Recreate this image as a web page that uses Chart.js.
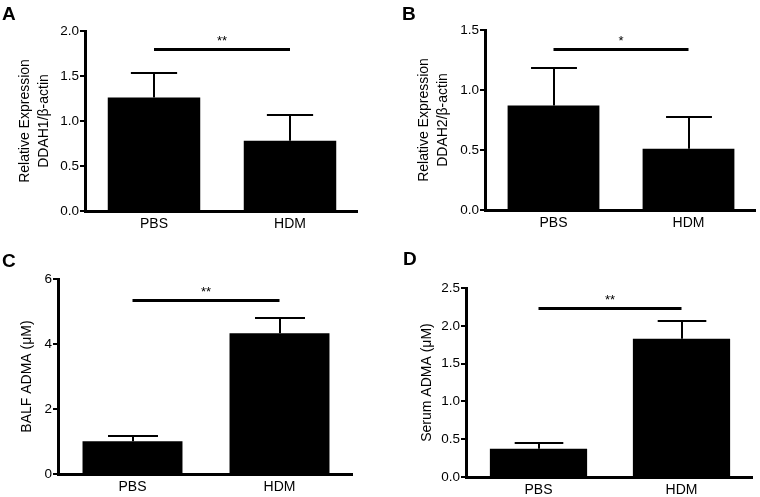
<!DOCTYPE html>
<html>
<head>
<meta charset="utf-8">
<script src="https://cdn.jsdelivr.net/npm/chart.js@4/dist/chart.umd.min.js"></script>
<style>
  body { margin: 0; background: #fff; }
  #wrap { position: relative; width: 760px; height: 497px; overflow: hidden; }
  canvas { position: absolute; }
  .tag { position: absolute; font: bold 19px "Liberation Sans", Arial, sans-serif; color: #000; line-height: 20px; }
</style>
</head>
<body>
<div id="wrap">
  <canvas id="cA" width="380" height="248" style="left:0;top:0"></canvas>
  <canvas id="cB" width="380" height="248" style="left:380px;top:0"></canvas>
  <canvas id="cC" width="380" height="249" style="left:0;top:248px"></canvas>
  <canvas id="cD" width="380" height="249" style="left:380px;top:248px"></canvas>
  <div class="tag" style="left:2px;top:4px">A</div>
  <div class="tag" style="left:402px;top:4px">B</div>
  <div class="tag" style="left:2px;top:251px">C</div>
  <div class="tag" style="left:403px;top:249px">D</div>
</div>
<script>
const groups = ['PBS', 'HDM'];

// mean and SEM per panel
const ddah1Mean = [1.26, 0.78];
const ddah1Sem = [0.27, 0.285];
const ddah2Mean = [0.87, 0.51];
const ddah2Sem = [0.31, 0.265];
const balfMean = [1.01, 4.33];
const balfSem = [0.17, 0.48];
const serumMean = [0.375, 1.83];
const serumSem = [0.075, 0.23];

// axis ranges
const yMaxes = [2.0, 1.5, 6, 2.5];
const ySteps = [0.5, 0.5, 2, 0.5];
const yDecimals = [1, 1, 0, 1];

// significance bars
const sigLevels = [1.8, 1.34, 5.36, 2.24];
const sigStars = ['**', '*', '**', '**'];

Chart.defaults.font.family = '"Liberation Sans", Arial, sans-serif';
Chart.defaults.color = '#000';

const errorBars = {
  id: 'errorBars',
  afterDatasetsDraw(chart, args, opts) {
    const ctx = chart.ctx;
    const y = chart.scales.y;
    const meta = chart.getDatasetMeta(0);
    const mean = chart.data.datasets[0].data;
    ctx.save();
    ctx.strokeStyle = '#000';
    ctx.lineWidth = 2;
    meta.data.forEach((bar, i) => {
      const top = Math.round(y.getPixelForValue(mean[i] + opts.sem[i]));
      const base = y.getPixelForValue(mean[i]);
      const half = bar.width / 4;
      const cx = Math.round(bar.x);
      ctx.beginPath();
      ctx.moveTo(cx, base);
      ctx.lineTo(cx, top);
      ctx.moveTo(cx - half, top);
      ctx.lineTo(cx + half, top);
      ctx.stroke();
    });
    // significance line
    const ly = Math.round(y.getPixelForValue(opts.sig)) + 0.5;
    const x0 = meta.data[0].x, x1 = meta.data[1].x;
    ctx.lineWidth = 3;
    ctx.beginPath();
    ctx.moveTo(x0, ly);
    ctx.lineTo(x1, ly);
    ctx.stroke();
    ctx.fillStyle = '#000';
    ctx.font = '13px "Liberation Sans", Arial, sans-serif';
    ctx.textAlign = 'center';
    ctx.textBaseline = 'alphabetic';
    ctx.fillText(opts.stars, (x0 + x1) / 2, ly - 5);
    ctx.restore();
  },
  afterDraw(chart) {
    // heavy axis lines, GraphPad style, as solid 3px rectangles
    const a = chart.chartArea;
    const ctx = chart.ctx;
    const lx = Math.round(a.left);
    const top = Math.round(a.top) - 1;
    const by = Math.round(a.bottom);
    ctx.save();
    ctx.fillStyle = '#000';
    ctx.fillRect(lx - 2, top, 3, by - top + 2);
    ctx.fillRect(lx - 2, by - 1, Math.round(a.right) - lx + 2, 3);
    ctx.restore();
  }
};

function makePanel(id, k, mean, sem, title, box) {
  return new Chart(document.getElementById(id), {
    type: 'bar',
    data: {
      labels: groups,
      datasets: [{
        data: mean,
        backgroundColor: '#000',
        borderWidth: 0,
        barPercentage: 0.68,
        categoryPercentage: 1
      }]
    },
    options: {
      responsive: false,
      animation: false,
      layout: { padding: { left: 0, right: box.right, top: box.top, bottom: 0 } },
      plugins: {
        legend: { display: false },
        tooltip: { enabled: false },
        errorBars: { sem: sem, sig: sigLevels[k], stars: sigStars[k] }
      },
      scales: {
        x: {
          grid: { display: false, drawTicks: false },
          border: { display: false },
          ticks: { font: { size: 14 }, color: '#000', padding: 5 },
          afterFit: s => { s.height = box.xh; }
        },
        y: {
          min: 0,
          max: yMaxes[k],
          ticks: {
            stepSize: ySteps[k],
            font: { size: 13.5 },
            color: '#000',
            padding: 1,
            callback: v => v.toFixed(yDecimals[k])
          },
          grid: { drawOnChartArea: false, drawTicks: true, tickLength: 6, lineWidth: 2, color: '#000' },
          border: { display: false },
          title: {
            display: true,
            text: title,
            color: '#000',
            font: { size: 14, lineHeight: 1.4 },
            padding: { top: box.tp, bottom: 0 }
          },
          afterFit: s => { s.width = box.yw; }
        }
      }
    },
    plugins: [errorBars]
  });
}

makePanel('cA', 0, ddah1Mean, ddah1Sem, ['Relative Expression', 'DDAH1/\u03b2-actin'],
  { yw: 86, right: 22, top: 31, xh: 37, tp: 15 });
makePanel('cB', 1, ddah2Mean, ddah2Sem, ['Relative Expression', 'DDAH2/\u03b2-actin'],
  { yw: 106, right: 4, top: 30, xh: 38, tp: 34 });
makePanel('cC', 2, balfMean, balfSem, 'BALF ADMA (\u03bcM)',
  { yw: 59, right: 27, top: 31, xh: 23, tp: 17 });
makePanel('cD', 3, serumMean, serumSem, 'Serum ADMA (\u03bcM)',
  { yw: 87, right: 7, top: 40, xh: 20, tp: 37 });
</script>
</body>
</html>
